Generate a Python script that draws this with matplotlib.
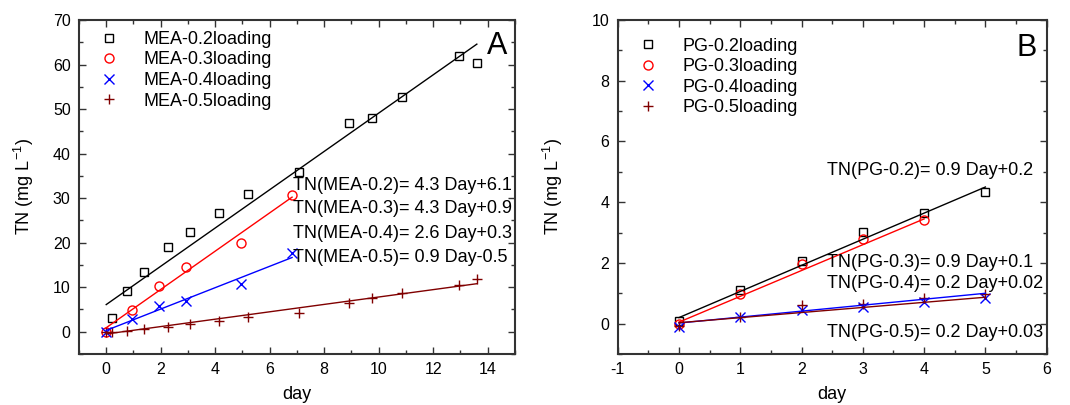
import matplotlib
matplotlib.use("Agg")
import matplotlib.pyplot as plt
import numpy as np
from matplotlib.ticker import MultipleLocator

plt.rcParams['font.family'] = ['Liberation Sans', 'DejaVu Sans']
plt.rcParams['mathtext.fontset'] = 'custom'
plt.rcParams['mathtext.rm'] = 'Liberation Sans'
plt.rcParams['mathtext.it'] = 'Liberation Sans'
plt.rcParams['axes.unicode_minus'] = False

# ---- panel A data (MEA) ----
mea_labels = ['MEA-0.2loading', 'MEA-0.3loading', 'MEA-0.4loading', 'MEA-0.5loading']
mea02_x = [0.22, 0.78, 1.38, 2.27, 3.09, 4.13, 5.2, 7.09, 8.91, 9.75, 10.85, 12.94, 13.6]
mea02_y = [3.0, 9.1, 13.4, 19.0, 22.4, 26.7, 31.0, 35.8, 46.8, 47.9, 52.8, 61.9, 60.4]
mea03_x = [0, 0.93, 1.93, 2.93, 4.94, 6.82]
mea03_y = [0, 4.8, 10.2, 14.5, 19.9, 30.6]
mea04_x = [0, 0.95, 1.95, 2.93, 4.94, 6.82]
mea04_y = [0, 2.8, 5.7, 6.9, 10.8, 17.7]
mea05_x = [0, 0.22, 0.78, 1.38, 2.27, 3.09, 4.13, 5.2, 7.09, 8.91, 9.75, 10.85, 12.94, 13.6]
mea05_y = [0, 0, 0.15, 0.6, 1.0, 1.8, 2.4, 3.3, 4.3, 6.5, 7.6, 8.75, 10.5, 11.9]
# fitted lines as drawn (slope, intercept, last day)
mea_slope = [4.3, 4.3, 2.4, 0.83]
mea_icpt = [6.1, 0.9, 0.3, -0.5]
mea_xend = [13.6, 6.82, 6.82, 13.6]
mea_eq = ['TN(MEA-0.2)= 4.3 Day+6.1', 'TN(MEA-0.3)= 4.3 Day+0.9',
          'TN(MEA-0.4)= 2.6 Day+0.3', 'TN(MEA-0.5)= 0.9 Day-0.5']
mea_eq_y = [32.8, 27.6, 22.0, 16.6]

# ---- panel B data (PG) ----
pg_labels = ['PG-0.2loading', 'PG-0.3loading', 'PG-0.4loading', 'PG-0.5loading']
pg_days = [0, 1, 2, 3, 4, 5]
pg02_y = [0.09, 1.12, 2.06, 3.03, 3.65, 4.34]
pg03_y = [-0.02, 0.99, 1.95, 2.8, 3.41]
pg04_y = [-0.1, 0.23, 0.45, 0.55, 0.72, 0.83]
pg05_y = [-0.08, 0.23, 0.6, 0.64, 0.83, 0.96]
pg_slope = [0.86, 0.85, 0.196, 0.168]
pg_icpt = [0.2, 0.05, 0.02, 0.03]
pg_xend = [5, 4, 5, 5]
pg_eq = ['TN(PG-0.2)= 0.9 Day+0.2', 'TN(PG-0.3)= 0.9 Day+0.1',
         'TN(PG-0.4)= 0.2 Day+0.02', 'TN(PG-0.5)= 0.2 Day+0.03']
pg_eq_y = [5.05, 2.0, 1.33, -0.3]

colors = ['black', 'red', 'blue', '#800000']
markers = ['s', 'o', 'x', '+']
msizes = [5.5, 6.5, 6.5, 6.5]

fig = plt.figure(figsize=(10.7, 4.05), dpi=100)
axA = fig.add_axes([0.0738, 0.1259, 0.4075, 0.8247])
axB = fig.add_axes([0.5773, 0.1259, 0.4009, 0.8247])


def draw(ax, xs, ys, labels, slopes, icpts, xends):
    for i in range(4):
        ax.plot(xs[i], ys[i], linestyle='none', marker=markers[i], ms=msizes[i],
                mfc='none', mec=colors[i], mew=1.0, label=labels[i])
    for i in range(4):
        fx = np.array([0, xends[i]])
        ax.plot(fx, slopes[i] * fx + icpts[i], color=colors[i], lw=1.0)


def style(ax):
    ax.tick_params(which='both', direction='in', top=True, right=True,
                   labelsize=11.5, width=1.0, color='#333333')
    ax.tick_params(which='major', length=5, pad=6)
    ax.tick_params(which='minor', length=3)
    for s in ax.spines.values():
        s.set_linewidth(1.5)
        s.set_color('#333333')
    ax.set_xlabel('day', fontsize=13, labelpad=6)
    ax.set_ylabel('TN (mg L$^{-1}$)', fontsize=13, labelpad=12)


draw(axA, [mea02_x, mea03_x, mea04_x, mea05_x],
     [mea02_y, mea03_y, mea04_y, mea05_y], mea_labels, mea_slope, mea_icpt, mea_xend)
axA.set_xlim(-1, 15)
axA.set_ylim(-5, 70)
axA.xaxis.set_major_locator(MultipleLocator(2))
axA.xaxis.set_minor_locator(MultipleLocator(1))
axA.yaxis.set_major_locator(MultipleLocator(10))
axA.yaxis.set_minor_locator(MultipleLocator(5))
style(axA)
for t, y in zip(mea_eq, mea_eq_y):
    axA.text(6.84, y, t, fontsize=13, va='center', ha='left')
axA.text(0.959, 0.922, 'A', transform=axA.transAxes, fontsize=22,
         ha='center', va='center')
axA.legend(loc='upper left', bbox_to_anchor=(0.02, 1.0), frameon=False,
           fontsize=13, handlelength=1.2, handletextpad=1.3, labelspacing=0.2,
           borderaxespad=0.2)

draw(axB, [pg_days, pg_days[:5], pg_days, pg_days],
     [pg02_y, pg03_y, pg04_y, pg05_y], pg_labels, pg_slope, pg_icpt, pg_xend)
axB.set_xlim(-1, 6)
axB.set_ylim(-1, 10)
axB.xaxis.set_major_locator(MultipleLocator(1))
axB.xaxis.set_minor_locator(MultipleLocator(0.5))
axB.yaxis.set_major_locator(MultipleLocator(2))
axB.yaxis.set_minor_locator(MultipleLocator(1))
style(axB)
axB.yaxis.labelpad = 19
for t, y in zip(pg_eq, pg_eq_y):
    axB.text(2.41, y, t, fontsize=13, va='center', ha='left')
axB.text(0.954, 0.916, 'B', transform=axB.transAxes, fontsize=22,
         ha='center', va='center')
axB.legend(loc='upper left', bbox_to_anchor=(0.02, 0.98), frameon=False,
           fontsize=13, handlelength=1.2, handletextpad=1.3, labelspacing=0.2,
           borderaxespad=0.2)

fig.savefig('out.png', dpi=100)
